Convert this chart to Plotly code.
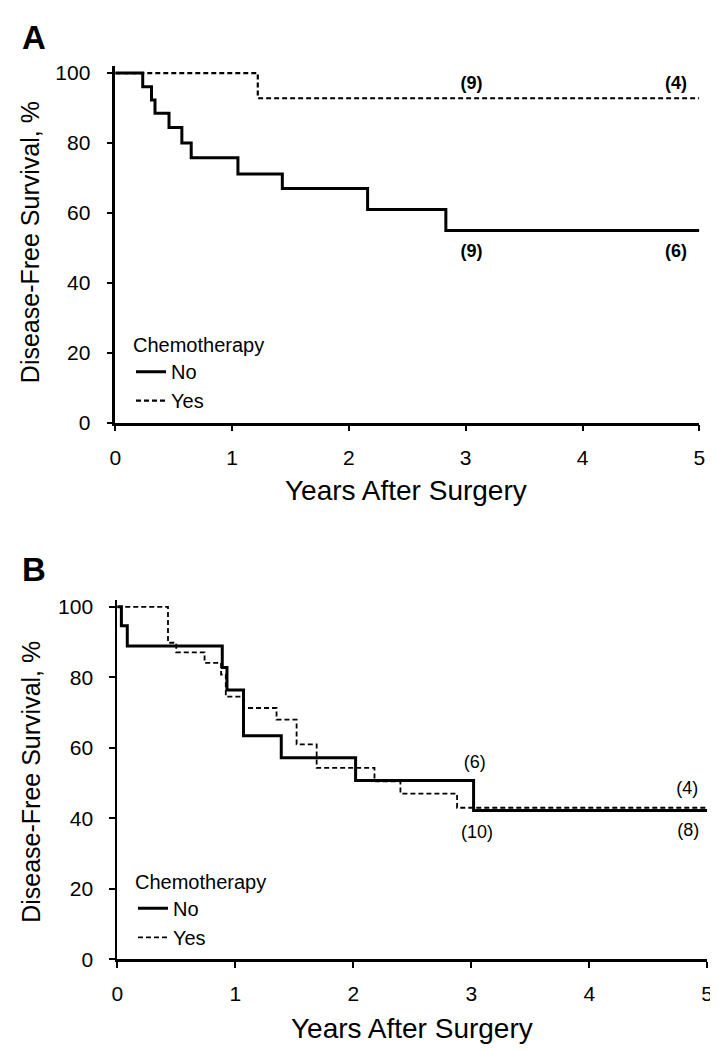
import plotly.graph_objects as go

# ---------------- data ----------------
years_ticks = [0, 1, 2, 3, 4, 5]
surv_ticks = [0, 20, 40, 60, 80, 100]

# Panel A
a_no_t = [0, 0.235, 0.31, 0.34, 0.46, 0.57, 0.65, 1.05, 1.43, 2.16, 2.83, 5.0]
a_no_s = [100, 96.1, 92.3, 88.5, 84.4, 80.0, 75.8, 71.1, 67.0, 61.0, 55.0, 55.0]
a_yes_t = [0, 1.22, 5.0]
a_yes_s = [100, 92.8, 92.8]
a_lab_x = [3.05, 4.8, 3.05, 4.8]
a_lab_y = [96.6, 96.6, 48.6, 48.6]
a_lab_t = ["(9)", "(4)", "(9)", "(6)"]

# Panel B
b_no_t = [0, 0.035, 0.085, 0.89, 0.93, 1.07, 1.39, 2.02, 3.02, 5.0]
b_no_s = [100, 94.6, 88.9, 82.8, 76.4, 63.4, 57.2, 50.7, 42.2, 42.2]
b_yes_t = [0, 0.43, 0.50, 0.74, 0.88, 0.92, 1.07, 1.35, 1.52, 1.69, 2.18, 2.40, 2.88, 5.0]
b_yes_s = [100, 89.8, 87.1, 84.1, 80.8, 74.5, 71.3, 68.0, 61.0, 54.3, 50.5, 47.0, 43.0, 43.0]
b_lab_x = [3.03, 3.05, 4.83, 4.84]
b_lab_y = [55.6, 35.8, 48.2, 36.2]
b_lab_t = ["(6)", "(10)", "(4)", "(8)"]

FONT = "Liberation Sans, Arial, sans-serif"
W, H = 718, 1050

def px_x(p):
    return p / W

def px_y(p):
    return (H - p) / H

fig = go.Figure()

# Panel A traces
fig.add_trace(go.Scatter(x=a_no_t, y=a_no_s, mode="lines", line_shape="hv",
                         line=dict(color="black", width=3), name="No",
                         xaxis="x", yaxis="y", legend="legend"))
fig.add_trace(go.Scatter(x=a_yes_t, y=a_yes_s, mode="lines", line_shape="hv",
                         line=dict(color="black", width=2.2, dash="5px,3px"), name="Yes",
                         xaxis="x", yaxis="y", legend="legend"))
fig.add_trace(go.Scatter(x=a_lab_x, y=a_lab_y, mode="text",
                         text=["<b>%s</b>" % t for t in a_lab_t],
                         textfont=dict(family=FONT, size=18, color="black"),
                         showlegend=False, xaxis="x", yaxis="y", cliponaxis=False))

# Panel B traces
fig.add_trace(go.Scatter(x=b_no_t, y=b_no_s, mode="lines", line_shape="hv",
                         line=dict(color="black", width=3), name="No",
                         xaxis="x2", yaxis="y2", legend="legend2"))
fig.add_trace(go.Scatter(x=b_yes_t, y=b_yes_s, mode="lines", line_shape="hv",
                         line=dict(color="black", width=1.8, dash="5px,3px"), name="Yes",
                         xaxis="x2", yaxis="y2", legend="legend2"))
fig.add_trace(go.Scatter(x=b_lab_x, y=b_lab_y, mode="text", text=b_lab_t,
                         textfont=dict(family=FONT, size=18, color="black"),
                         showlegend=False, xaxis="x2", yaxis="y2", cliponaxis=False))

# axes
def xaxis_style(lw):
    return dict(range=[0, 5], tickvals=years_ticks, ticks="outside", ticklen=6,
                tickwidth=2, tickcolor="black", showline=True, linecolor="black",
                linewidth=lw, showgrid=False, zeroline=False, ticklabelstandoff=8,
                tickfont=dict(family=FONT, size=21, color="black"))

def yaxis_style(lw):
    return dict(range=[0, 102], tickvals=surv_ticks, ticks="outside", ticklen=6,
                tickwidth=2, tickcolor="black", showline=True, linecolor="black",
                linewidth=lw, showgrid=False, zeroline=False, ticklabelstandoff=12,
                tickfont=dict(family=FONT, size=21, color="black"))

# Panel A: x 103..697, y(100)=61, y(0)=416
a_x0, a_x1 = 103, 697
a_y100, a_y0 = 61, 416
a_top = a_y100 - 2 * (a_y0 - a_y100) / 100
# Panel B: x 105..705, y(100)=603, y(0)=961
b_x0, b_x1 = 105, 705
b_y100, b_y0 = 603, 961
b_top = b_y100 - 2 * (b_y0 - b_y100) / 100

legend_common = dict(xanchor="left", yanchor="top", bgcolor="rgba(0,0,0,0)",
                     font=dict(family=FONT, size=20),
                     itemwidth=30, tracegroupgap=0)

fig.update_layout(
    width=W, height=H,
    margin=dict(l=0, r=0, t=0, b=0),
    paper_bgcolor="white", plot_bgcolor="white",
    font=dict(family=FONT, color="black"),
    xaxis=dict(domain=[px_x(a_x0), px_x(a_x1)], anchor="y", **xaxis_style(2.5)),
    yaxis=dict(domain=[px_y(a_y0), px_y(a_top)], anchor="x", **yaxis_style(2.5)),
    xaxis2=dict(domain=[px_x(b_x0), px_x(b_x1)], anchor="y2", **xaxis_style(2.5)),
    yaxis2=dict(domain=[px_y(b_y0), px_y(b_top)], anchor="x2", **yaxis_style(1.8)),
    legend=dict(x=px_x(119), y=px_y(318),
                title=dict(text="Chemotherapy", font=dict(family=FONT, size=20)),
                **legend_common),
    legend2=dict(x=px_x(121), y=px_y(863),
                 title=dict(text="Chemotherapy", font=dict(family=FONT, size=20)),
                 **legend_common),
    showlegend=True,
)

annots = [
    dict(text="<b>A</b>", x=px_x(6), y=px_y(25), xanchor="left", yanchor="middle",
         font=dict(size=33)),
    dict(text="<b>B</b>", x=px_x(6), y=px_y(565), xanchor="left", yanchor="middle",
         font=dict(size=33)),
    dict(text="Disease-Free Survival, %", x=px_x(17), y=px_y(233),
         textangle=-90, xanchor="center", yanchor="middle", font=dict(size=25)),
    dict(text="Disease-Free Survival, %", x=px_x(17), y=px_y(781),
         textangle=-90, xanchor="center", yanchor="middle", font=dict(size=25)),
    dict(text="Years After Surgery", x=px_x(399), y=px_y(485),
         xanchor="center", yanchor="middle", font=dict(size=28)),
    dict(text="Years After Surgery", x=px_x(405), y=px_y(1031),
         xanchor="center", yanchor="middle", font=dict(size=28)),
]
for a in annots:
    a.update(xref="paper", yref="paper", showarrow=False)
    a["font"] = dict(family=FONT, color="black", **a["font"])
fig.update_layout(annotations=annots)

fig.write_html("out.html")
